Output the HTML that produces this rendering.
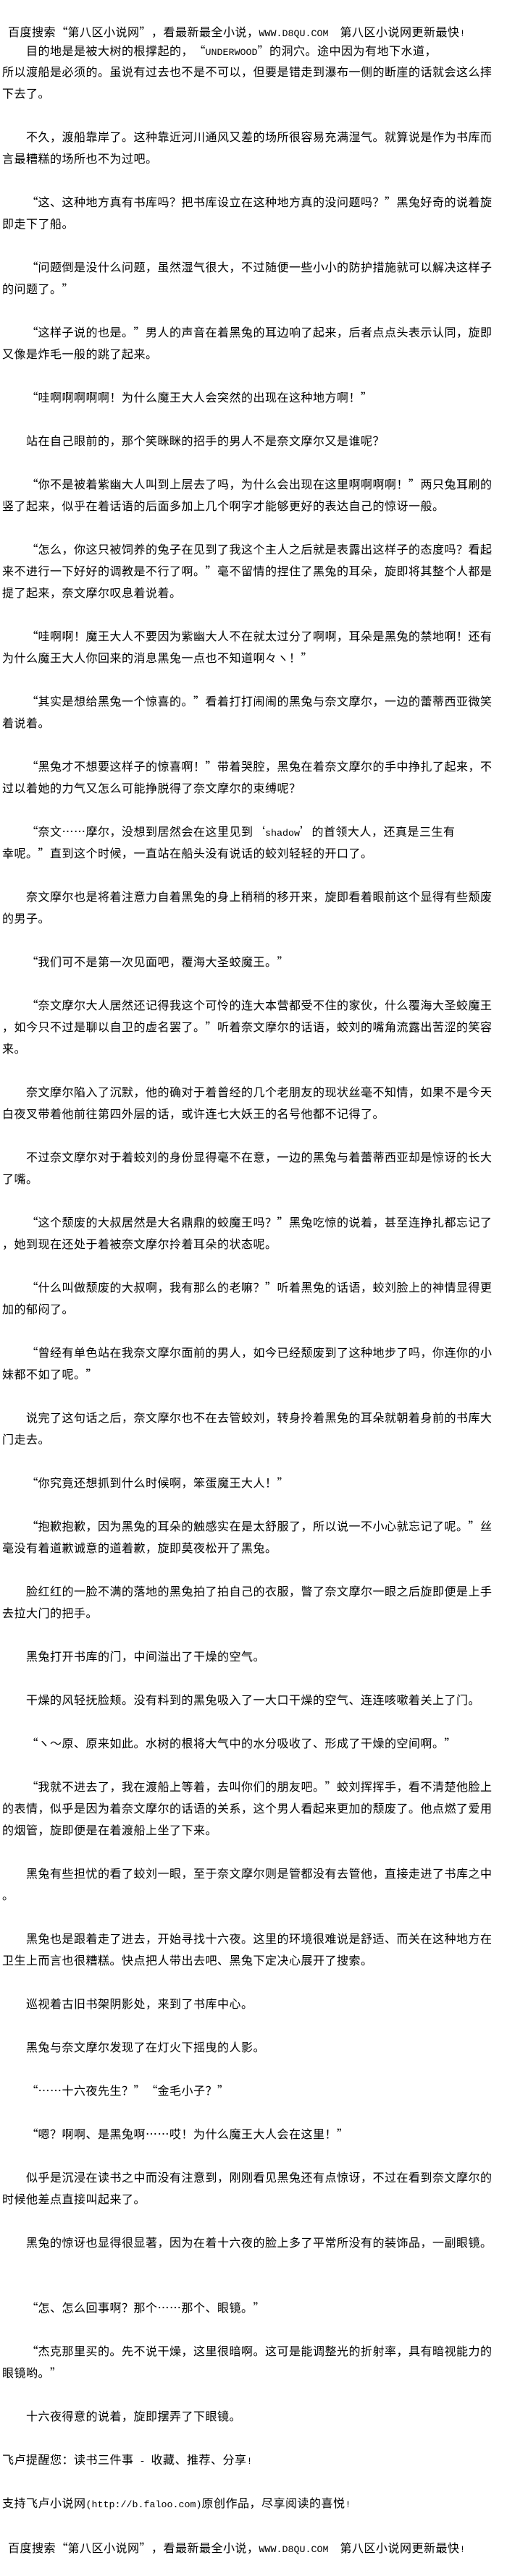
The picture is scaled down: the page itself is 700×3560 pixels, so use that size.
<!DOCTYPE html>
<html lang="zh-CN">
<head>
<meta charset="utf-8">
<title>第八区小说网</title>
<style>
html,body{margin:0;padding:0;background:#fff}
body{position:relative;width:700px;height:3560px;overflow:hidden;color:#000;font-family:"WenQuanYi Zen Hei","Noto Sans CJK SC",sans-serif;font-size:16px;letter-spacing:.5px}
p{position:absolute;left:3px;margin:0;height:30px;line-height:30px;white-space:pre}
p.i{left:36px}
p.h{left:11px}
b{font-weight:normal;font-family:"Liberation Mono",monospace;font-size:13.33px;letter-spacing:0}
i,u{display:inline-block;width:16.5px;font-style:normal;text-decoration:none;letter-spacing:0}
i{text-align:right}
u{text-align:left}
</style>
</head>
<body>
<p class="h" style="top:28px">百度搜索<i>&#8220;</i>第八区小说网<u>&#8221;</u>&#xFF0C;看最新最全小说&#xFF0C;<b>WWW.D8QU.COM  </b>第八区小说网更新最快<b>!</b></p>
<p class="i" style="top:54px">目的地是是被大树的根撑起的&#xFF0C;<i>&#8220;</i><b>UNDERWOOD</b><u>&#8221;</u>的洞穴。途中因为有地下水道&#xFF0C;</p>
<p style="top:83px">所以渡船是必须的。虽说有过去也不是不可以&#xFF0C;但要是错走到瀑布一侧的断崖的话就会这么摔</p>
<p style="top:113px">下去了。</p>
<p class="i" style="top:173px">不久&#xFF0C;渡船靠岸了。这种靠近河川通风又差的场所很容易充满湿气。就算说是作为书库而</p>
<p style="top:203px">言最糟糕的场所也不为过吧。</p>
<p class="i" style="top:263px"><i>&#8220;</i>这、这种地方真有书库吗&#xFF1F;把书库设立在这种地方真的没问题吗&#xFF1F;<u>&#8221;</u>黑兔好奇的说着旋</p>
<p style="top:293px">即走下了船。</p>
<p class="i" style="top:353px"><i>&#8220;</i>问题倒是没什么问题&#xFF0C;虽然湿气很大&#xFF0C;不过随便一些小小的防护措施就可以解决这样子</p>
<p style="top:383px">的问题了。<u>&#8221;</u></p>
<p class="i" style="top:443px"><i>&#8220;</i>这样子说的也是。<u>&#8221;</u>男人的声音在着黑兔的耳边响了起来&#xFF0C;后者点点头表示认同&#xFF0C;旋即</p>
<p style="top:473px">又像是炸毛一般的跳了起来。</p>
<p class="i" style="top:533px"><i>&#8220;</i>哇啊啊啊啊啊&#xFF01;为什么魔王大人会突然的出现在这种地方啊&#xFF01;<u>&#8221;</u></p>
<p class="i" style="top:593px">站在自己眼前的&#xFF0C;那个笑眯眯的招手的男人不是奈文摩尔又是谁呢&#xFF1F;</p>
<p class="i" style="top:653px"><i>&#8220;</i>你不是被着紫幽大人叫到上层去了吗&#xFF0C;为什么会出现在这里啊啊啊啊&#xFF01;<u>&#8221;</u>两只兔耳刷的</p>
<p style="top:683px">竖了起来&#xFF0C;似乎在着话语的后面多加上几个啊字才能够更好的表达自己的惊讶一般。</p>
<p class="i" style="top:743px"><i>&#8220;</i>怎么&#xFF0C;你这只被饲养的兔子在见到了我这个主人之后就是表露出这样子的态度吗&#xFF1F;看起</p>
<p style="top:773px">来不进行一下好好的调教是不行了啊。<u>&#8221;</u>毫不留情的捏住了黑兔的耳朵&#xFF0C;旋即将其整个人都是</p>
<p style="top:803px">提了起来&#xFF0C;奈文摩尔叹息着说着。</p>
<p class="i" style="top:863px"><i>&#8220;</i>哇啊啊&#xFF01;魔王大人不要因为紫幽大人不在就太过分了啊啊&#xFF0C;耳朵是黑兔的禁地啊&#xFF01;还有</p>
<p style="top:893px">为什么魔王大人你回来的消息黑兔一点也不知道啊々ヽ&#xFF01;<u>&#8221;</u></p>
<p class="i" style="top:953px"><i>&#8220;</i>其实是想给黑兔一个惊喜的。<u>&#8221;</u>看着打打闹闹的黑兔与奈文摩尔&#xFF0C;一边的蕾蒂西亚微笑</p>
<p style="top:983px">着说着。</p>
<p class="i" style="top:1043px"><i>&#8220;</i>黑兔才不想要这样子的惊喜啊&#xFF01;<u>&#8221;</u>带着哭腔&#xFF0C;黑兔在着奈文摩尔的手中挣扎了起来&#xFF0C;不</p>
<p style="top:1073px">过以着她的力气又怎么可能挣脱得了奈文摩尔的束缚呢&#xFF1F;</p>
<p class="i" style="top:1133px"><i>&#8220;</i>奈文……摩尔&#xFF0C;没想到居然会在这里见到<i>&#8216;</i><b>shadow</b><u>&#8217;</u>的首领大人&#xFF0C;还真是三生有</p>
<p style="top:1163px">幸呢。<u>&#8221;</u>直到这个时候&#xFF0C;一直站在船头没有说话的蛟刘轻轻的开口了。</p>
<p class="i" style="top:1223px">奈文摩尔也是将着注意力自着黑兔的身上稍稍的移开来&#xFF0C;旋即看着眼前这个显得有些颓废</p>
<p style="top:1253px">的男子。</p>
<p class="i" style="top:1313px"><i>&#8220;</i>我们可不是第一次见面吧&#xFF0C;覆海大圣蛟魔王。<u>&#8221;</u></p>
<p class="i" style="top:1373px"><i>&#8220;</i>奈文摩尔大人居然还记得我这个可怜的连大本营都受不住的家伙&#xFF0C;什么覆海大圣蛟魔王</p>
<p style="top:1403px">&#xFF0C;如今只不过是聊以自卫的虚名罢了。<u>&#8221;</u>听着奈文摩尔的话语&#xFF0C;蛟刘的嘴角流露出苦涩的笑容</p>
<p style="top:1433px">来。</p>
<p class="i" style="top:1493px">奈文摩尔陷入了沉默&#xFF0C;他的确对于着曾经的几个老朋友的现状丝毫不知情&#xFF0C;如果不是今天</p>
<p style="top:1523px">白夜叉带着他前往第四外层的话&#xFF0C;或许连七大妖王的名号他都不记得了。</p>
<p class="i" style="top:1583px">不过奈文摩尔对于着蛟刘的身份显得毫不在意&#xFF0C;一边的黑兔与着蕾蒂西亚却是惊讶的长大</p>
<p style="top:1613px">了嘴。</p>
<p class="i" style="top:1673px"><i>&#8220;</i>这个颓废的大叔居然是大名鼎鼎的蛟魔王吗&#xFF1F;<u>&#8221;</u>黑兔吃惊的说着&#xFF0C;甚至连挣扎都忘记了</p>
<p style="top:1703px">&#xFF0C;她到现在还处于着被奈文摩尔拎着耳朵的状态呢。</p>
<p class="i" style="top:1763px"><i>&#8220;</i>什么叫做颓废的大叔啊&#xFF0C;我有那么的老嘛&#xFF1F;<u>&#8221;</u>听着黑兔的话语&#xFF0C;蛟刘脸上的神情显得更</p>
<p style="top:1793px">加的郁闷了。</p>
<p class="i" style="top:1853px"><i>&#8220;</i>曾经有单色站在我奈文摩尔面前的男人&#xFF0C;如今已经颓废到了这种地步了吗&#xFF0C;你连你的小</p>
<p style="top:1883px">妹都不如了呢。<u>&#8221;</u></p>
<p class="i" style="top:1943px">说完了这句话之后&#xFF0C;奈文摩尔也不在去管蛟刘&#xFF0C;转身拎着黑兔的耳朵就朝着身前的书库大</p>
<p style="top:1973px">门走去。</p>
<p class="i" style="top:2033px"><i>&#8220;</i>你究竟还想抓到什么时候啊&#xFF0C;笨蛋魔王大人&#xFF01;<u>&#8221;</u></p>
<p class="i" style="top:2093px"><i>&#8220;</i>抱歉抱歉&#xFF0C;因为黑兔的耳朵的触感实在是太舒服了&#xFF0C;所以说一不小心就忘记了呢。<u>&#8221;</u>丝</p>
<p style="top:2123px">毫没有着道歉诚意的道着歉&#xFF0C;旋即莫夜松开了黑兔。</p>
<p class="i" style="top:2183px">脸红红的一脸不满的落地的黑兔拍了拍自己的衣服&#xFF0C;瞥了奈文摩尔一眼之后旋即便是上手</p>
<p style="top:2213px">去拉大门的把手。</p>
<p class="i" style="top:2273px">黑兔打开书库的门&#xFF0C;中间溢出了干燥的空气。</p>
<p class="i" style="top:2333px">干燥的风轻抚脸颊。没有料到的黑兔吸入了一大口干燥的空气、连连咳嗽着关上了门。</p>
<p class="i" style="top:2393px"><i>&#8220;</i>ヽ&#xFF5E;原、原来如此。水树的根将大气中的水分吸收了、形成了干燥的空间啊。<u>&#8221;</u></p>
<p class="i" style="top:2453px"><i>&#8220;</i>我就不进去了&#xFF0C;我在渡船上等着&#xFF0C;去叫你们的朋友吧。<u>&#8221;</u>蛟刘挥挥手&#xFF0C;看不清楚他脸上</p>
<p style="top:2483px">的表情&#xFF0C;似乎是因为着奈文摩尔的话语的关系&#xFF0C;这个男人看起来更加的颓废了。他点燃了爱用</p>
<p style="top:2513px">的烟管&#xFF0C;旋即便是在着渡船上坐了下来。</p>
<p class="i" style="top:2573px">黑兔有些担忧的看了蛟刘一眼&#xFF0C;至于奈文摩尔则是管都没有去管他&#xFF0C;直接走进了书库之中</p>
<p style="top:2603px">。</p>
<p class="i" style="top:2663px">黑兔也是跟着走了进去&#xFF0C;开始寻找十六夜。这里的环境很难说是舒适、而关在这种地方在</p>
<p style="top:2693px">卫生上而言也很糟糕。快点把人带出去吧、黑兔下定决心展开了搜索。</p>
<p class="i" style="top:2753px">巡视着古旧书架阴影处&#xFF0C;来到了书库中心。</p>
<p class="i" style="top:2813px">黑兔与奈文摩尔发现了在灯火下摇曳的人影。</p>
<p class="i" style="top:2873px"><i>&#8220;</i>……十六夜先生&#xFF1F;<u>&#8221;</u><i>&#8220;</i>金毛小子&#xFF1F;<u>&#8221;</u></p>
<p class="i" style="top:2933px"><i>&#8220;</i>嗯&#xFF1F;啊啊、是黑兔啊……哎&#xFF01;为什么魔王大人会在这里&#xFF01;<u>&#8221;</u></p>
<p class="i" style="top:2993px">似乎是沉浸在读书之中而没有注意到&#xFF0C;刚刚看见黑兔还有点惊讶&#xFF0C;不过在看到奈文摩尔的</p>
<p style="top:3023px">时候他差点直接叫起来了。</p>
<p class="i" style="top:3083px">黑兔的惊讶也显得很显著&#xFF0C;因为在着十六夜的脸上多了平常所没有的装饰品&#xFF0C;一副眼镜。</p>
<p class="i" style="top:3173px"><i>&#8220;</i>怎、怎么回事啊&#xFF1F;那个……那个、眼镜。<u>&#8221;</u></p>
<p class="i" style="top:3233px"><i>&#8220;</i>杰克那里买的。先不说干燥&#xFF0C;这里很暗啊。这可是能调整光的折射率&#xFF0C;具有暗视能力的</p>
<p style="top:3263px">眼镜哟。<u>&#8221;</u></p>
<p class="i" style="top:3323px">十六夜得意的说着&#xFF0C;旋即摆弄了下眼镜。</p>
<p style="top:3383px">飞卢提醒您&#xFF1A;读书三件事<b> - </b>收藏、推荐、分享<b>!</b></p>
<p style="top:3443px">支持飞卢小说网<b>(http://b.faloo.com)</b>原创作品&#xFF0C;尽享阅读的喜悦<b>!</b></p>
<p class="h" style="top:3505px">百度搜索<i>&#8220;</i>第八区小说网<u>&#8221;</u>&#xFF0C;看最新最全小说&#xFF0C;<b>WWW.D8QU.COM  </b>第八区小说网更新最快<b>!</b></p>
</body>
</html>
